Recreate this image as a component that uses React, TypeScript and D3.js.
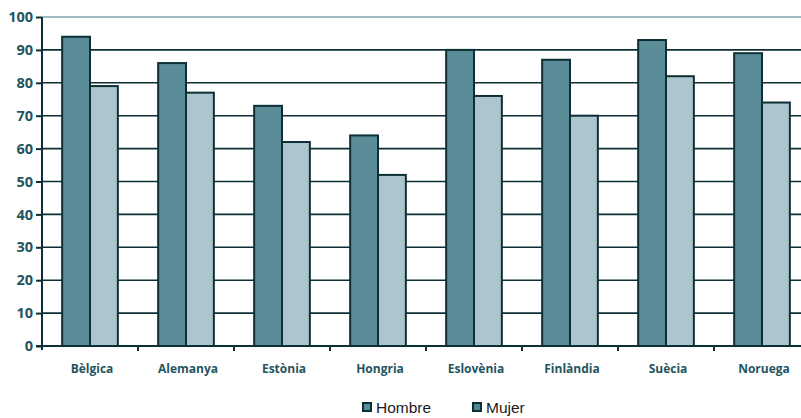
import React, { useRef, useEffect } from "react";
import * as d3 from "d3";

const categories = ["Bèlgica", "Alemanya", "Estònia", "Hongria", "Eslovènia", "Finlàndia", "Suècia", "Noruega"];
const hombre = [94, 86, 73, 64, 90, 87, 93, 89];
const mujer = [79, 77, 62, 52, 76, 70, 82, 74];
const seriesNames = ["Hombre", "Mujer"];
const yTicks = [0, 10, 20, 30, 40, 50, 60, 70, 80, 90, 100];

const width = 801;
const height = 418;
const margin = { top: 17, right: -9, bottom: 72, left: 42 };
const colors = ["#5b8d99", "#adc6ce"];
const dark = "#0b2f34";
const textColor = "#1f5560";

const App: React.FC = () => {
  const svgRef = useRef<SVGSVGElement | null>(null);

  useEffect(() => {
    if (!svgRef.current) return;
    const svg = d3.select(svgRef.current);
    svg.selectAll("*").remove();

    const x0 = d3
      .scaleBand<string>()
      .domain(categories)
      .range([margin.left, width - margin.right])
      .paddingInner(0.42)
      .paddingOuter(0.21);

    const x1 = d3
      .scaleBand<string>()
      .domain(seriesNames)
      .range([0, x0.bandwidth()]);

    const y = d3
      .scaleLinear()
      .domain([0, 100])
      .range([height - margin.bottom, margin.top]);

    // gridlines
    svg
      .append("g")
      .selectAll("line")
      .data(yTicks.filter((t) => t > 0))
      .join("line")
      .attr("x1", margin.left)
      .attr("x2", width)
      .attr("y1", (d) => y(d))
      .attr("y2", (d) => y(d))
      .attr("stroke", (d) => (d === 100 ? "#7fa7b0" : dark))
      .attr("stroke-width", (d) => (d === 100 ? 1.5 : 1.6));

    const data = categories.map((c, i) => ({ c, vals: [hombre[i], mujer[i]] }));

    svg
      .append("g")
      .selectAll("g")
      .data(data)
      .join("g")
      .attr("transform", (d) => `translate(${x0(d.c)},0)`)
      .selectAll("rect")
      .data((d) => d.vals.map((v, j) => ({ v, s: seriesNames[j], j })))
      .join("rect")
      .attr("x", (d) => x1(d.s)!)
      .attr("y", (d) => y(d.v))
      .attr("width", x1.bandwidth())
      .attr("height", (d) => y(0) - y(d.v))
      .attr("fill", (d) => colors[d.j])
      .attr("stroke", dark)
      .attr("stroke-width", 2);

    // y axis
    const yAxis = svg
      .append("g")
      .attr("transform", `translate(${margin.left},0)`)
      .call(d3.axisLeft(y).tickValues(yTicks).tickSize(6).tickPadding(3));
    yAxis.select(".domain").attr("stroke", dark).attr("stroke-width", 2).attr("d", `M0,${y(100)}V${y(0) + 4}`);
    yAxis.selectAll(".tick line").attr("stroke", dark).attr("stroke-width", 2);
    yAxis
      .selectAll("text")
      .attr("fill", textColor)
      .attr("font-family", "Open Sans, sans-serif")
      .attr("font-weight", "bold")
      .attr("font-size", 14.5);

    // x axis
    const xAxisY = y(0);
    svg
      .append("line")
      .attr("x1", margin.left - 6)
      .attr("x2", width)
      .attr("y1", xAxisY)
      .attr("y2", xAxisY)
      .attr("stroke", dark)
      .attr("stroke-width", 2);

    const step = x0.step();
    svg
      .append("g")
      .selectAll("line")
      .data(categories.slice(1))
      .join("line")
      .attr("x1", (d) => x0(d)! - x0.paddingInner() * step / 2)
      .attr("x2", (d) => x0(d)! - x0.paddingInner() * step / 2)
      .attr("y1", xAxisY)
      .attr("y2", xAxisY + 5)
      .attr("stroke", dark)
      .attr("stroke-width", 2);

    svg
      .append("g")
      .selectAll("text")
      .data(categories)
      .join("text")
      .attr("x", (d) => x0(d)! + x0.bandwidth() / 2 + 2)
      .attr("y", xAxisY + 27)
      .attr("text-anchor", "middle")
      .attr("fill", textColor)
      .attr("font-family", "Open Sans, sans-serif")
      .attr("font-weight", "bold")
      .attr("font-size", 12)
      .text((d) => d);

    // legend
    const legend = svg
      .append("g")
      .selectAll("g")
      .data(seriesNames)
      .join("g")
      .attr("transform", (_d, i) => `translate(${362 + i * 110},401)`);
    legend
      .append("rect")
      .attr("x", 1)
      .attr("y", 2)
      .attr("width", 8)
      .attr("height", 8)
      .attr("fill", (_d, i) => (i === 0 ? colors[0] : "#4f8794"))
      .attr("stroke", dark)
      .attr("stroke-width", 2);
    legend
      .append("text")
      .attr("x", 14)
      .attr("y", 12)
      .attr("fill", "#1a1a1a")
      .attr("font-family", "Liberation Sans, Arial, sans-serif")
      .attr("font-size", 15.5)
      .text((d) => d);
  }, []);

  return (
    <svg
      ref={svgRef}
      width={width}
      height={height}
      style={{ position: "absolute", left: 0, top: 0, background: "#fff" }}
    />
  );
};

export default App;
